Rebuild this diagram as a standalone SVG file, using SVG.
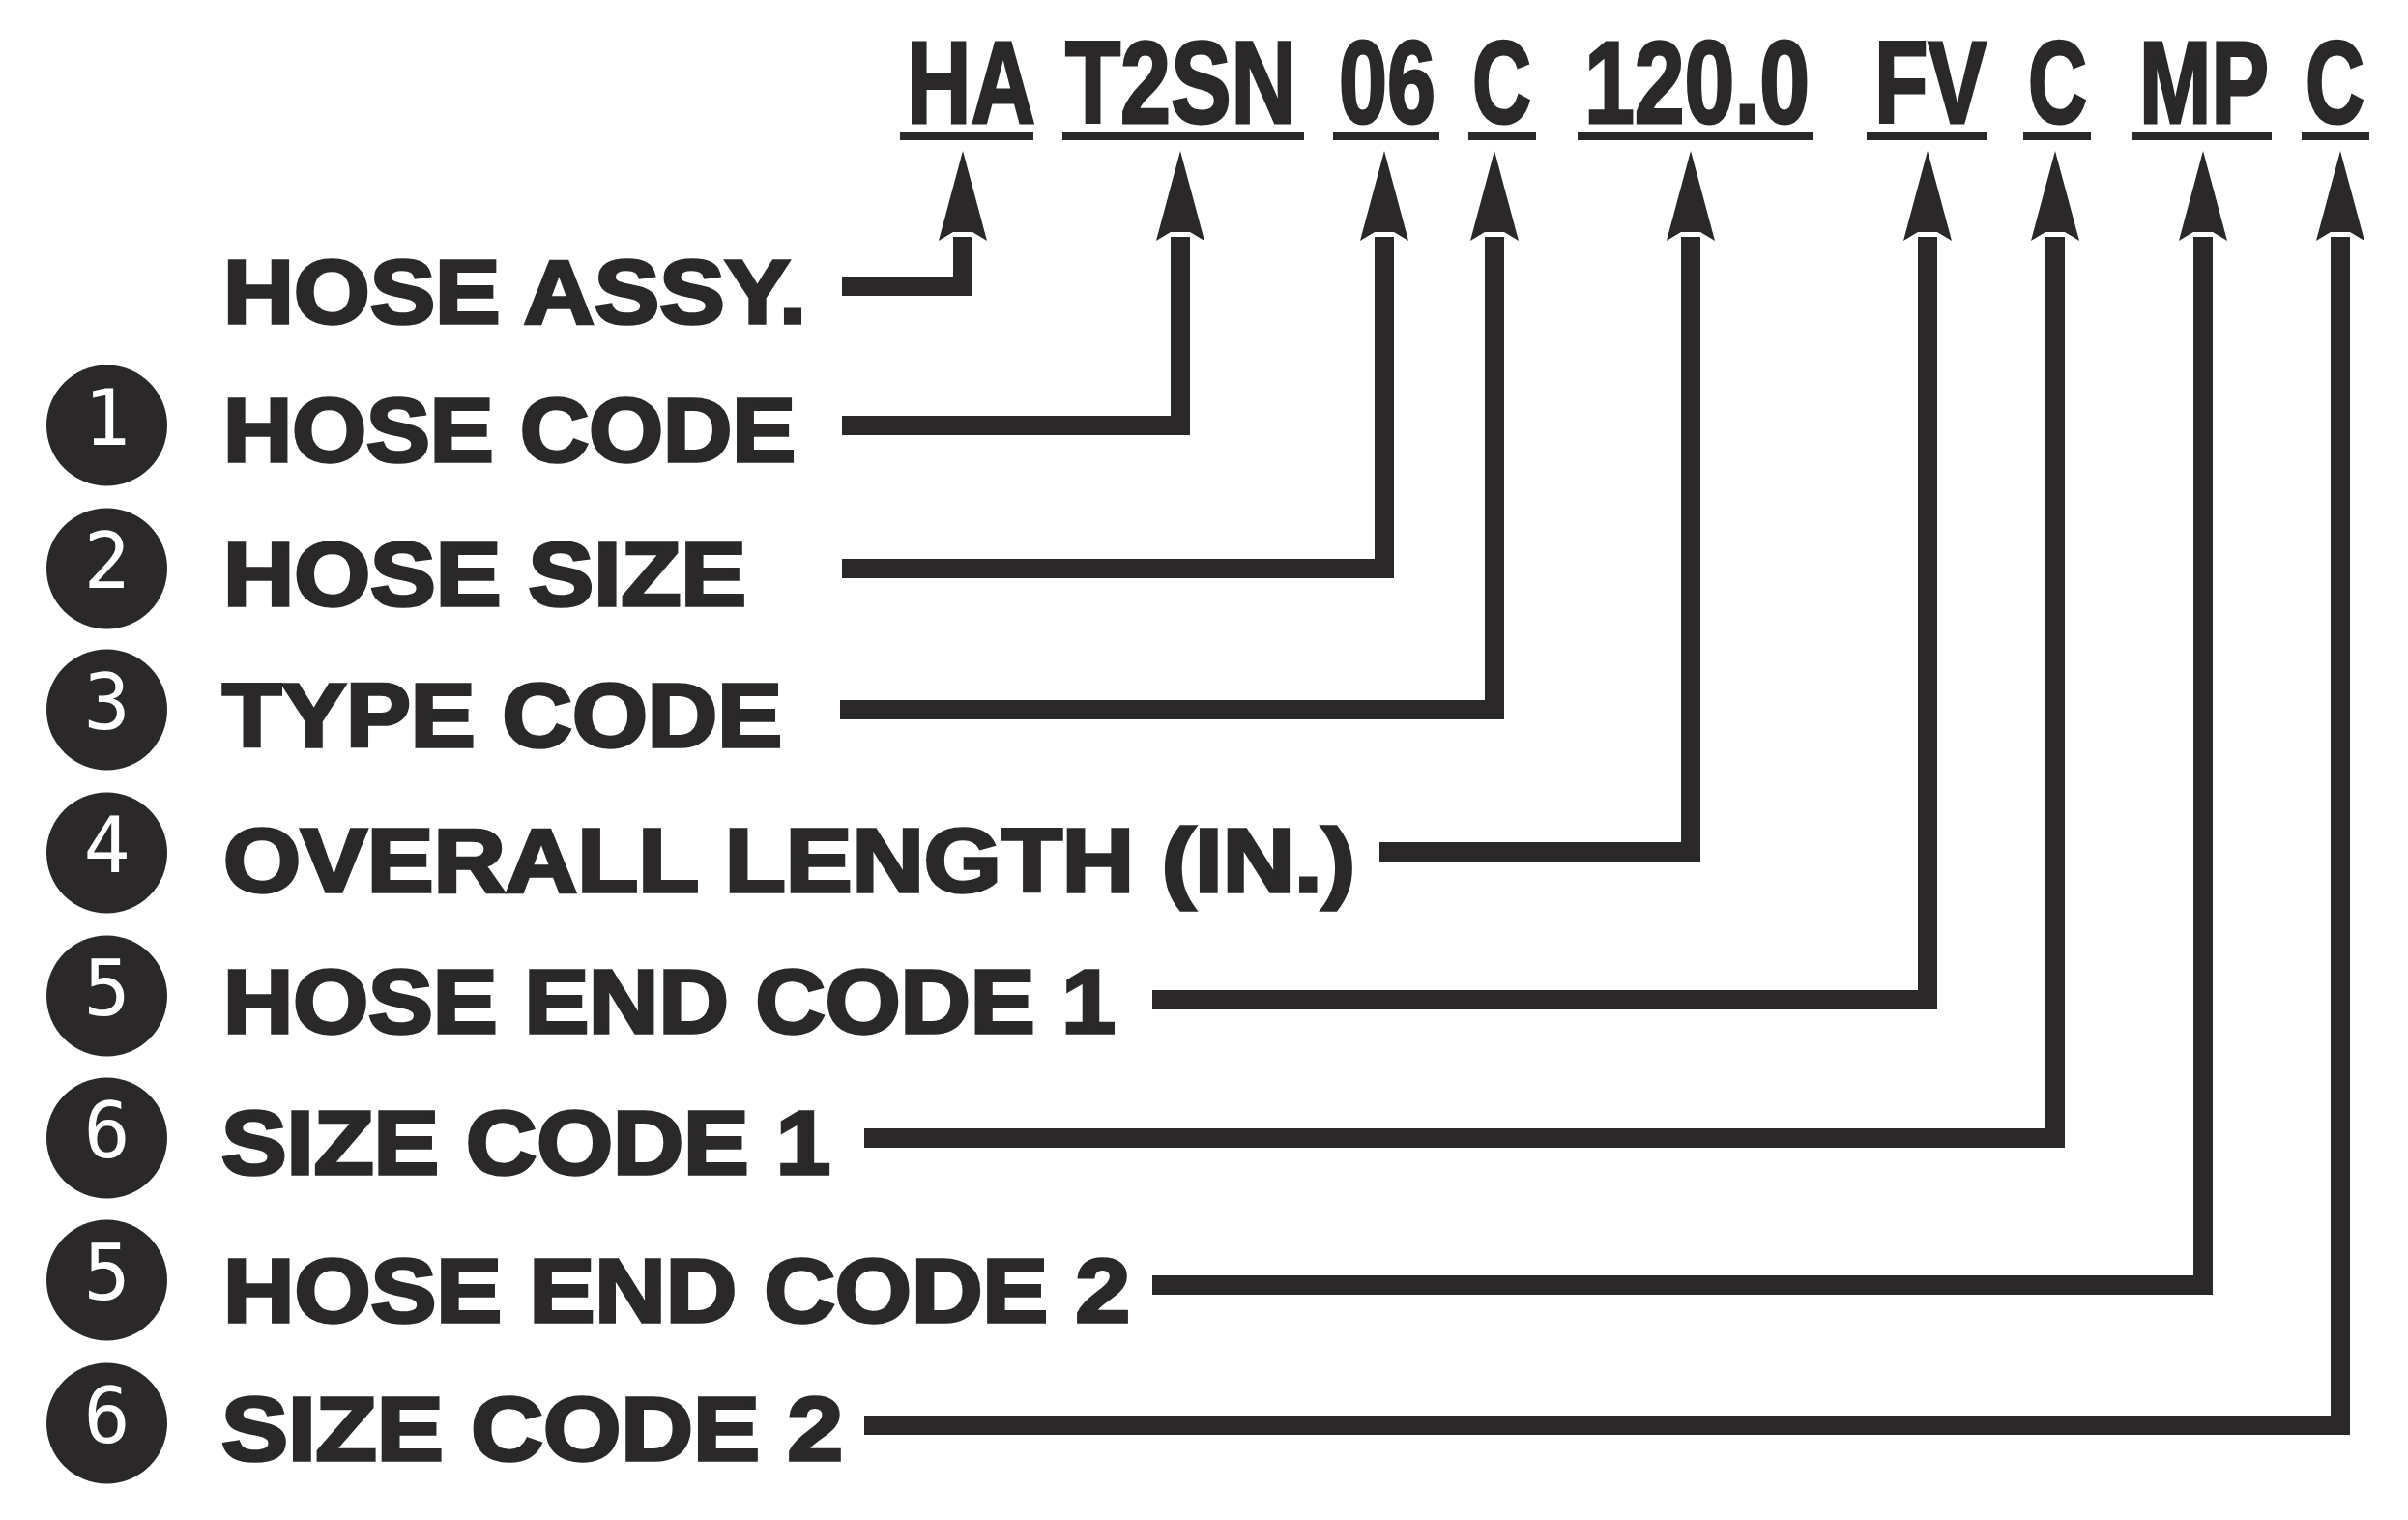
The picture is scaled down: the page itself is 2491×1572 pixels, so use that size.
<svg xmlns="http://www.w3.org/2000/svg" width="2491" height="1572" viewBox="0 0 2491 1572">
<style>
.code{font-family:"Liberation Sans",Arial,sans-serif;font-weight:bold;font-size:121px;fill:#2a2829;stroke:#2a2829;stroke-width:3}
.lbl{font-family:"Liberation Sans",Arial,sans-serif;font-weight:bold;font-size:93px;fill:#2a2829;stroke:#2a2829;stroke-width:3.5}
.num{font-family:"DejaVu Sans Mono","Liberation Mono",monospace;font-size:80px;fill:#ffffff;text-anchor:middle}
.ul{fill:#2a2829}
.dot{fill:#2a2829}
.conn{fill:none;stroke:#2a2829;stroke-width:20;stroke-linejoin:miter;marker-end:url(#arrow)}
</style>
<defs>
<marker id="arrow" markerUnits="userSpaceOnUse" orient="auto" refX="0" refY="0" markerWidth="200" markerHeight="200" overflow="visible">
<path d="M89 0 L-4 25 L5 10 L5 -10 L-4 -25 Z" fill="#2a2829"/>
</marker>
</defs>
<rect width="2491" height="1572" fill="#ffffff"/>
<g id="codes">
<g id="code-HA"><text class="code" transform="translate(938 127) scale(0.761 1)">HA</text><rect class="ul" x="931" y="136" width="138" height="9"/></g>
<g id="code-T2SN"><text class="code" transform="translate(1102 127) scale(0.773 1)">T2SN</text><rect class="ul" x="1099" y="136" width="250" height="9"/></g>
<g id="code-06"><text class="code" transform="translate(1385 127) scale(0.743 1)">06</text><rect class="ul" x="1379" y="136" width="110" height="9"/></g>
<g id="code-C1"><text class="code" transform="translate(1523 127) scale(0.698 1)">C</text><rect class="ul" x="1519" y="136" width="70" height="9"/></g>
<g id="code-120"><text class="code" transform="translate(1639 127) scale(0.770 1)">120.0</text><rect class="ul" x="1632" y="136" width="244" height="9"/></g>
<g id="code-FV"><text class="code" transform="translate(1939 127) scale(0.750 1)">FV</text><rect class="ul" x="1931" y="136" width="125" height="9"/></g>
<g id="code-C2"><text class="code" transform="translate(2098 127) scale(0.698 1)">C</text><rect class="ul" x="2093" y="136" width="70" height="9"/></g>
<g id="code-MP"><text class="code" transform="translate(2213 127) scale(0.738 1)">MP</text><rect class="ul" x="2205" y="136" width="145" height="9"/></g>
<g id="code-C3"><text class="code" transform="translate(2385 127) scale(0.698 1)">C</text><rect class="ul" x="2381" y="136" width="70" height="9"/></g>
</g>
<g id="labels">
<g id="row-assy"><text class="lbl" x="231" y="334" textLength="603" lengthAdjust="spacingAndGlyphs">HOSE ASSY.</text></g>
<g id="row-1"><circle class="dot" cx="110.5" cy="440" r="62.5"/><text class="num" x="110.5" y="460">1</text><text class="lbl" x="231" y="477" textLength="592" lengthAdjust="spacingAndGlyphs">HOSE CODE</text></g>
<g id="row-2"><circle class="dot" cx="110.5" cy="588" r="62.5"/><text class="num" x="110.5" y="608">2</text><text class="lbl" x="231" y="626" textLength="541" lengthAdjust="spacingAndGlyphs">HOSE SIZE</text></g>
<g id="row-3"><circle class="dot" cx="110.5" cy="734" r="62.5"/><text class="num" x="110.5" y="754">3</text><text class="lbl" x="230" y="772" textLength="579" lengthAdjust="spacingAndGlyphs">TYPE CODE</text></g>
<g id="row-4"><circle class="dot" cx="110.5" cy="882" r="62.5"/><text class="num" x="110.5" y="902">4</text><text class="lbl" x="231" y="922" textLength="1171" lengthAdjust="spacingAndGlyphs">OVERALL LENGTH (IN.)</text></g>
<g id="row-5a"><circle class="dot" cx="110.5" cy="1030" r="62.5"/><text class="num" x="110.5" y="1050">5</text><text class="lbl" x="231" y="1068" textLength="923" lengthAdjust="spacingAndGlyphs">HOSE END CODE 1</text></g>
<g id="row-6a"><circle class="dot" cx="110.5" cy="1177" r="62.5"/><text class="num" x="110.5" y="1197">6</text><text class="lbl" x="229" y="1214" textLength="630" lengthAdjust="spacingAndGlyphs">SIZE CODE 1</text></g>
<g id="row-5b"><circle class="dot" cx="110.5" cy="1324" r="62.5"/><text class="num" x="110.5" y="1344">5</text><text class="lbl" x="231" y="1367" textLength="938" lengthAdjust="spacingAndGlyphs">HOSE END CODE 2</text></g>
<g id="row-6b"><circle class="dot" cx="110.5" cy="1472" r="62.5"/><text class="num" x="110.5" y="1492">6</text><text class="lbl" x="229" y="1510" textLength="643" lengthAdjust="spacingAndGlyphs">SIZE CODE 2</text></g>
</g>
<g id="connectors">
<path class="conn" d="M871 296 H996 V245"/>
<path class="conn" d="M871 440 H1221 V245"/>
<path class="conn" d="M871 588 H1432 V245"/>
<path class="conn" d="M869 734 H1546 V245"/>
<path class="conn" d="M1427 881 H1749 V245"/>
<path class="conn" d="M1192 1034 H1994 V245"/>
<path class="conn" d="M894 1177 H2126 V245"/>
<path class="conn" d="M1192 1329 H2279 V245"/>
<path class="conn" d="M894 1474 H2421 V245"/>
</g>
</svg>
